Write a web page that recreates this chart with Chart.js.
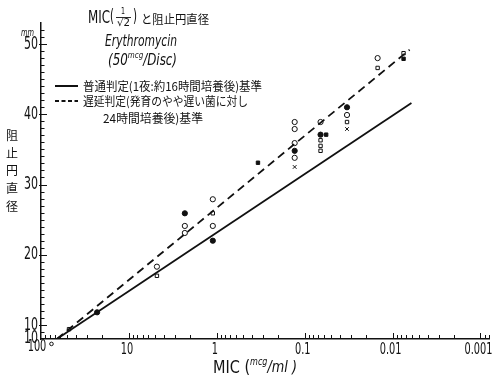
<!DOCTYPE html>
<html>
<head>
<meta charset="utf-8">
<script src="https://cdn.jsdelivr.net/npm/chart.js@4"></script>
<style>
  html, body { margin: 0; padding: 0; background: #fff; }
</style>
</head>
<body>
<canvas id="myChart1" width="497" height="378"></canvas>
<script>
// MIC (mcg/ml) on a reversed log axis, zone diameter (mm) on the y axis
var micTicks = [100, 10, 1, 0.1, 0.01, 0.001];
var micTickLabels = ["100", "10", "1", "0.1", "0.01", "0.001"];
var mmTicks = [8, 10, 20, 30, 40, 50];
var mmTickLabels = ["10", "10", "20", "30", "40", "50"];

// regression lines (two end points each)
var normalLineMic = [66, 0.0061];
var normalLineMm = [8.0, 41.6];
var delayedLineMic = [66, 0.0064];
var delayedLineMm = [8.0, 49.2];

// measured strains, by marker
var openCircleMic = [4.8, 2.31, 2.31, 1.11, 1.11, 0.13, 0.13, 0.13, 0.13, 0.066, 0.033, 0.0148];
var openCircleMm = [18.3, 24.1, 23.1, 27.9, 24.1, 38.9, 37.9, 35.9, 33.8, 38.9, 39.9, 48.0];
var filledCircleMic = [23, 2.31, 1.11, 0.13, 0.066, 0.033];
var filledCircleMm = [11.8, 25.9, 22.0, 34.8, 37.1, 41.0];
var openSquareMic = [48, 4.8, 1.11, 0.066, 0.066, 0.066, 0.033, 0.0148, 0.0075];
var openSquareMm = [9.4, 17.0, 25.9, 36.3, 35.5, 34.8, 38.9, 46.6, 48.7];
var filledSquareMic = [0.34, 0.057, 0.0075];
var filledSquareMm = [33.1, 37.1, 47.9];
var crossMic = [0.13, 0.033];
var crossMm = [32.5, 37.9];
var belowScaleMic = [76, 76];
var belowScaleMm = [7.3, 6.6];

var ink = "#111";
var narrow = '"Liberation Sans Narrow", "DejaVu Sans Condensed", "Liberation Sans", sans-serif';
var jp = '"Noto Sans CJK JP", sans-serif';

function pts(xs, ys) {
  return xs.map(function (v, i) { return { x: v, y: ys[i] }; });
}

function marks(xs, ys, style, fill, r) {
  return {
    type: "scatter",
    data: pts(xs, ys),
    pointStyle: style,
    pointRadius: r || 2.6,
    backgroundColor: fill,
    borderColor: ink,
    borderWidth: 1,
    clip: false
  };
}

// draw a run of text pieces squeezed to a given width
function drawRun(c, parts, x, y, width) {
  var total = 0;
  parts.forEach(function (p) { c.font = p[1]; total += c.measureText(p[0]).width; });
  var k = width ? width / total : 1;
  c.save();
  c.translate(x, y);
  c.scale(k, 1);
  var cx = 0;
  parts.forEach(function (p) {
    c.font = p[1];
    c.fillText(p[0], cx, p[2] || 0);
    cx += c.measureText(p[0]).width;
  });
  c.restore();
}

// single text squeezed by a fixed factor, anchored left / center / right
function drawNarrow(c, text, font, x, y, k, align) {
  c.font = font;
  var w = c.measureText(text).width * k;
  var left = align === "right" ? x - w : align === "center" ? x - w / 2 : x;
  drawRun(c, [[text, font]], left, y, w);
}

var decorations = {
  id: "decorations",
  afterDraw: function (chart) {
    var c = chart.ctx, xs = chart.scales.x, ys = chart.scales.y, a = chart.chartArea;
    c.save();
    c.strokeStyle = ink;
    c.fillStyle = ink;

    // tick marks pointing into the plot
    c.lineWidth = 1;
    c.beginPath();
    for (var mm = 9; mm <= 52; mm++) {
      var py = Math.round(ys.getPixelForValue(mm)) + 0.5;
      var major = mm % 10 === 0;
      c.moveTo(a.left - (major ? 2 : 0), py);
      c.lineTo(a.left + (major ? 6 : 3.5), py);
    }
    for (var e = 1; e >= -4; e--) {
      for (var k = 1; k <= 9; k++) {
        var v = k * Math.pow(10, e);
        if (v < xs.min || v > xs.max) continue;
        var px = Math.round(xs.getPixelForValue(v)) + 0.5;
        c.moveTo(px, a.bottom);
        c.lineTo(px, a.bottom - (k === 1 ? 6 : 4));
      }
    }
    c.stroke();

    // tick labels
    c.textBaseline = "middle";
    c.textAlign = "left";
    mmTicks.forEach(function (v, i) {
      drawNarrow(c, mmTickLabels[i], "18px " + narrow, a.left - 3, ys.getPixelForValue(v) + (v === 8 ? -1 : 0), 0.68, "right");
    });
    micTicks.forEach(function (v, i) {
      var px = xs.getPixelForValue(v) - (v === 100 ? 4 : 2);
      drawNarrow(c, micTickLabels[i], "16px " + narrow, px, a.bottom + (v === 100 ? 8 : 11), 0.68, "center");
    });

    // title block
    drawRun(c, [["MIC", "17px " + narrow]], 88, 19, 22);
    drawRun(c, [["(", "17px " + narrow]], 110, 18, 4);
    drawRun(c, [["1", "9px " + narrow]], 121, 12, 4);
    c.lineWidth = 0.9;
    c.beginPath();
    c.moveTo(116, 17.5); c.lineTo(131, 17.5);
    c.stroke();
    drawRun(c, [["√2", "10px " + narrow]], 117, 23, 13);
    drawRun(c, [[")", "17px " + narrow]], 133, 18, 4);
    drawRun(c, [["と阻止円直径", "12px " + jp]], 141, 19, 68);

    drawRun(c, [["Erythromycin", "italic 15px " + narrow]], 105, 42, 72);
    drawRun(c, [
      ["(50", "italic 15px " + narrow],
      ["mcg", "italic 9px " + narrow, -5],
      ["/Disc)", "italic 15px " + narrow]
    ], 108, 61, 69);

    // legend
    c.lineWidth = 2;
    c.beginPath();
    c.moveTo(55, 86); c.lineTo(78, 86);
    c.stroke();
    c.setLineDash([4, 2.5]);
    c.beginPath();
    c.moveTo(55, 101); c.lineTo(78, 101);
    c.stroke();
    c.setLineDash([]);
    drawRun(c, [["普通判定(1夜:約16時間培養後)基準", "12px " + jp]], 83, 86, 179);
    drawRun(c, [["遅延判定(発育のやや遅い菌に対し", "12px " + jp]], 83, 101, 165);
    drawRun(c, [["24時間培養後)基準", "12px " + jp]], 103, 118, 100);

    // axis titles
    drawRun(c, [["mm", "italic 11px " + narrow]], 21, 33, 13);
    var yTitle = "阻止円直径";
    c.font = "12px " + jp;
    c.textAlign = "center";
    [135, 153, 170, 188, 206].forEach(function (py, i) {
      c.fillText(yTitle[i], 12, py);
    });
    c.textAlign = "left";
    drawRun(c, [
      ["MIC", "18px " + narrow],
      [" (", "18px " + narrow],
      ["mcg", "italic 10px " + narrow, -6],
      ["/ml )", "italic 16px " + narrow]
    ], 213, 368, 84);

    c.restore();
  }
};

var ctx = document.getElementById("myChart1").getContext("2d");
var chart = new Chart(ctx, {
  data: {
    datasets: [
      {
        type: "line",
        data: pts(normalLineMic, normalLineMm),
        borderColor: ink,
        borderWidth: 1.8,
        pointRadius: 0
      },
      {
        type: "line",
        data: pts(delayedLineMic, delayedLineMm),
        borderColor: ink,
        borderWidth: 1.8,
        borderDash: [8, 5],
        pointRadius: 0
      },
      marks(openCircleMic, openCircleMm, "circle", "#fff"),
      marks(filledCircleMic, filledCircleMm, "circle", ink),
      marks(openSquareMic, openSquareMm, "rect", "#fff", 2.4),
      marks(filledSquareMic, filledSquareMm, "rect", ink, 2.4),
      marks(crossMic, crossMm, "crossRot", ink, 2.6),
      marks(belowScaleMic, belowScaleMm, "circle", "#fff", 1.8)
    ]
  },
  options: {
    responsive: false,
    animation: false,
    layout: { padding: { top: 23, right: 8, left: 0, bottom: 0 } },
    plugins: {
      legend: { display: false },
      tooltip: { enabled: false }
    },
    scales: {
      x: {
        type: "logarithmic",
        reverse: true,
        min: 0.0008,
        max: 100,
        grid: { display: false },
        border: { display: true, color: ink, width: 1.5 },
        ticks: { display: false },
        afterFit: function (s) { s.height = 39; }
      },
      y: {
        type: "linear",
        min: 8,
        max: 53,
        grid: { display: false },
        border: { display: true, color: ink, width: 1.5 },
        ticks: { display: false },
        afterFit: function (s) { s.width = 41; }
      }
    }
  },
  plugins: [decorations]
});
</script>
</body>
</html>
